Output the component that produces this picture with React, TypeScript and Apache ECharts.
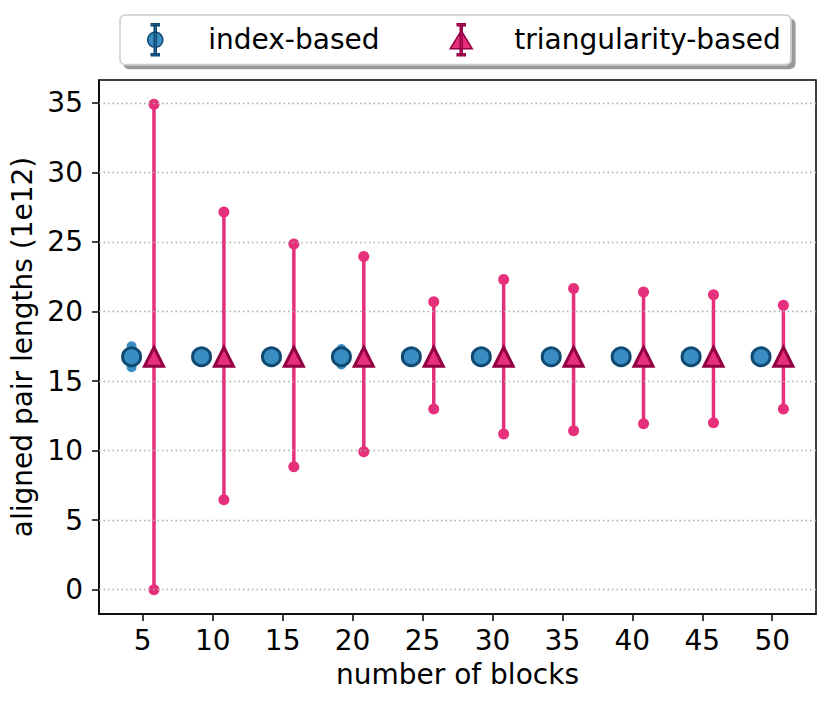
import React, { useEffect, useRef } from "react";
import * as echarts from "echarts";

const blocks = [5, 10, 15, 20, 25, 30, 35, 40, 45, 50];
const indexMean = [16.75, 16.75, 16.75, 16.75, 16.75, 16.75, 16.75, 16.75, 16.75, 16.75];
const indexErr = [0.75, 0.25, 0.2, 0.55, 0.2, 0.15, 0.15, 0.1, 0.1, 0.1];
const triMean = [16.75, 16.75, 16.75, 16.75, 16.75, 16.75, 16.75, 16.75, 16.75, 16.75];
const triLow = [0.0, 6.47, 8.84, 9.92, 13.0, 11.2, 11.43, 11.93, 12.0, 13.0];
const triHigh = [34.9, 27.15, 24.85, 23.95, 20.7, 22.3, 21.65, 21.4, 21.2, 20.45];
const xTicks = [5, 10, 15, 20, 25, 30, 35, 40, 45, 50];
const yTicks = [0, 5, 10, 15, 20, 25, 30, 35];
const seriesNames = ["index-based", "triangularity-based"];
const xShift = 0.8;

const BLUE = "#3a8dc3";
const BLUE_EDGE = "#0f4a72";
const PINK = "#e7307b";
const PINK_EDGE = "#930044";
const FONT = "DejaVu Sans";
const FS = 28;

const errRender = (color: string, capR: number) => (params: any, api: any) => {
  const x = api.value(0);
  const lo = api.coord([x, api.value(1)]);
  const hi = api.coord([x, api.value(2)]);
  return {
    type: "group",
    children: [
      {
        type: "line",
        shape: { x1: lo[0], y1: lo[1], x2: hi[0], y2: hi[1] },
        style: { stroke: color, lineWidth: 3.5 },
      },
      { type: "circle", shape: { cx: lo[0], cy: lo[1], r: capR }, style: { fill: color } },
      { type: "circle", shape: { cx: hi[0], cy: hi[1], r: capR }, style: { fill: color } },
    ],
  };
};

export default function App() {
  const ref = useRef<HTMLDivElement>(null);
  useEffect(() => {
    if (!ref.current) return;
    const chart = echarts.init(ref.current, null, { renderer: "svg" });
    const indexErrData = blocks.map((b, i) => [b - xShift, indexMean[i] - indexErr[i], indexMean[i] + indexErr[i]]);
    const triErrData = blocks.map((b, i) => [b + xShift, triLow[i], triHigh[i]]);
    const indexPts = blocks.map((b, i) => [b - xShift, indexMean[i]]);
    const triPts = blocks.map((b, i) => [b + xShift, triMean[i]]);
    const span = blocks[blocks.length - 1] - blocks[0] + 2 * xShift;
    const xMin = blocks[0] - xShift - span * 0.05;
    const xMax = blocks[blocks.length - 1] + xShift + span * 0.05;
    const yLo = Math.min(...triLow);
    const yHi = Math.max(...triHigh);
    const yMin = yLo - (yHi - yLo) * 0.05;
    const yMax = yHi + (yHi - yLo) * 0.05;

    chart.setOption({
      animation: false,
      backgroundColor: "#ffffff",
      textStyle: { fontFamily: FONT },
      grid: {
        left: 99,
        right: 14,
        top: 80,
        bottom: 91,
        show: true,
        borderColor: "#000",
        borderWidth: 1.5,
        containLabel: false,
      },
      legend: {
        left: 120,
        top: 15,
        orient: "horizontal",
        padding: [8, 10, 8, 27],
        itemGap: 70,
        itemWidth: 24,
        itemHeight: 32,
        backgroundColor: "#ffffff",
        borderColor: "#cccccc",
        borderWidth: 1.5,
        borderRadius: 5,
        shadowColor: "rgba(0,0,0,0.4)",
        shadowOffsetX: 4,
        shadowOffsetY: 4,
        shadowBlur: 0,
        textStyle: { fontFamily: FONT, fontSize: FS, color: "#000", padding: [0, 0, 0, 36] },
        data: [
          {
            name: seriesNames[0],
            icon: "path://M7,0H9V32H7Z M4,0H12V2H4Z M4,30H12V32H4Z M8,8.5A7.5,7.5,0,1,1,7.99,8.5Z",
            itemStyle: { color: BLUE, borderColor: BLUE_EDGE, borderWidth: 1.5 },
          },
          {
            name: seriesNames[1],
            icon: "path://M11,0H13V32H11Z M8,0H16V2H8Z M8,30H16V32H8Z M12,7L23,25H1Z",
            itemStyle: { color: PINK, borderColor: PINK_EDGE, borderWidth: 1.5 },
          },
        ],
      },
      xAxis: {
        type: "value",
        min: xMin,
        max: xMax,
        name: "number of blocks",
        nameLocation: "middle",
        nameGap: 46,
        nameTextStyle: { fontFamily: FONT, fontSize: FS, color: "#000" },
        axisLine: { show: true, onZero: false, lineStyle: { color: "#000", width: 1.5 } },
        axisTick: { show: true, length: 7, lineStyle: { color: "#000", width: 1.5 }, customValues: xTicks },
        axisLabel: { fontFamily: FONT, fontSize: FS, color: "#000", margin: 12, customValues: xTicks },
        splitLine: { show: false },
      },
      yAxis: {
        type: "value",
        min: yMin,
        max: yMax,
        name: "aligned pair lengths (1e12)",
        nameLocation: "middle",
        nameGap: 56,
        nameTextStyle: { fontFamily: FONT, fontSize: FS, color: "#000" },
        axisLine: { show: true, onZero: false, lineStyle: { color: "#000", width: 1.5 } },
        axisTick: { show: true, length: 7, lineStyle: { color: "#000", width: 1.5 }, customValues: yTicks },
        axisLabel: { fontFamily: FONT, fontSize: FS, color: "#000", margin: 16, customValues: yTicks },
        splitLine: { show: false },
      },
      series: [
        {
          name: "gridlines",
          type: "line",
          data: [],
          silent: true,
          markLine: {
            silent: true,
            symbol: "none",
            label: { show: false },
            lineStyle: { color: "#aaaaaa", width: 1.3, type: [1.5, 3] },
            data: yTicks.map((v) => ({ yAxis: v })),
          },
        },
        {
          name: "index-err",
          type: "custom",
          renderItem: errRender(BLUE, 5),
          data: indexErrData,
          encode: { x: 0, y: [1, 2] },
          z: 2,
        },
        {
          name: "tri-err",
          type: "custom",
          renderItem: errRender(PINK, 5.5),
          data: triErrData,
          encode: { x: 0, y: [1, 2] },
          z: 2,
        },
        {
          name: seriesNames[0],
          type: "scatter",
          data: indexPts,
          symbol: "circle",
          symbolSize: 18,
          itemStyle: { color: BLUE, borderColor: BLUE_EDGE, borderWidth: 3, opacity: 1 },
          z: 3,
        },
        {
          name: seriesNames[1],
          type: "scatter",
          data: triPts,
          symbol: "triangle",
          symbolSize: 19,
          itemStyle: { color: PINK, borderColor: PINK_EDGE, borderWidth: 3, opacity: 1 },
          z: 4,
        },
      ],
    });
    return () => chart.dispose();
  }, []);
  return <div ref={ref} style={{ width: 830, height: 705, margin: -8 }} />;
}
